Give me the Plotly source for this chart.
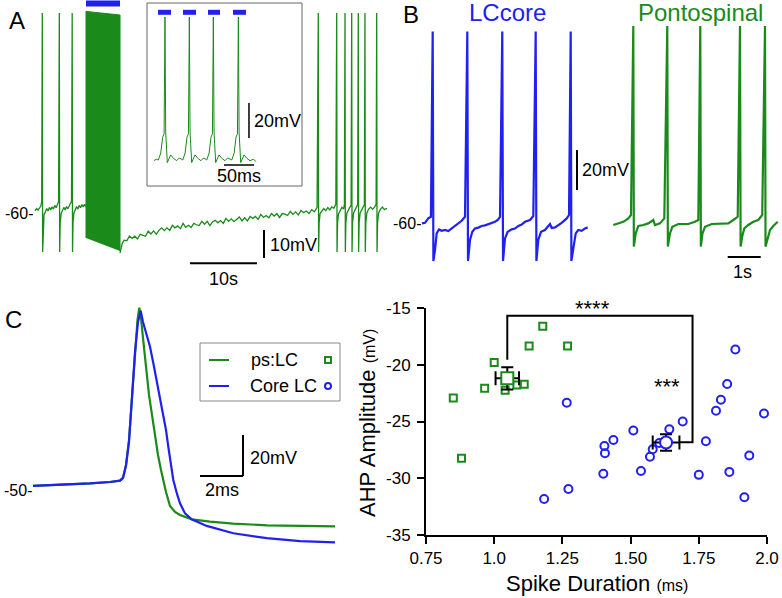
import plotly.graph_objects as go

GREEN = "#1a8a1a"
BLUE = "#2020f0"
FONT = "Liberation Sans, Arial, sans-serif"
W, H = 782, 598

# ---------------- Panel A: long recording (time s, membrane potential mV) ----------------
a_pre_t = [0.00, 0.25, 0.45, 0.65, 0.85, 1.00, 1.09, 1.14, 1.22, 1.35, 1.55, 1.75, 1.95, 2.15, 2.35,
           2.55, 2.75, 2.95, 3.15, 3.35, 3.52, 3.63, 3.68, 3.76, 3.90, 4.10, 4.30, 4.50, 4.70, 4.90,
           5.10, 5.30, 5.45, 5.55, 5.60, 5.68, 5.82, 6.00, 6.20, 6.40, 6.60, 6.80, 7.00, 7.20, 7.40,
           7.55, 7.61]
a_pre_v = [-59.2, -58.4, -59.0, -58.2, -57.6, -56.0, 11.4, -73.9, -64.0, -60.5, -59.6, -58.4, -59.3, -58.0, -58.9,
           -57.8, -58.6, -57.3, -58.1, -57.0, -56.0, 11.4, -73.9, -63.5, -60.2, -59.1, -58.0, -58.9, -57.7, -58.5,
           -57.4, -56.8, -55.8, 11.4, -73.9, -63.0, -60.0, -58.9, -57.7, -58.6, -57.3, -58.1, -57.0, -57.8, -56.9,
           -57.5, -57.5]
# dense high-frequency firing during the light train (drawn as a filled envelope)
a_block_t = [7.61, 7.61, 12.69, 12.69]
a_block_v = [-68.9, 12.0, 10.7, -73.6]
a_post_t = [12.69, 12.80, 13.00,
            13.3, 13.7, 14.1, 14.5, 14.9, 15.3, 15.7, 16.1, 16.5, 16.9, 17.3, 17.7, 18.1, 18.5, 18.9, 19.3,
            19.7, 20.1, 20.5, 20.9, 21.3, 21.7, 22.1, 22.5, 22.9, 23.3, 23.7, 24.1, 24.5, 24.9, 25.3, 25.7,
            26.1, 26.5, 26.9, 27.3, 27.7, 28.1, 28.5, 28.9, 29.3, 29.7, 30.1, 30.5, 30.9, 31.3, 31.7, 32.1,
            32.5, 32.9, 33.3, 33.7, 34.1, 34.5, 34.9, 35.3, 35.7, 36.1, 36.5, 36.9, 37.3, 37.7, 38.1, 38.5,
            38.9, 39.3, 39.7, 40.1, 40.5, 40.9, 41.3, 41.7,
            42.10, 42.28, 42.33, 42.41, 42.55, 42.80, 43.10, 43.40, 43.70,
            44.00, 44.30, 44.60, 44.90, 45.03, 45.08, 45.16, 45.30, 45.55, 45.80, 46.05, 46.18, 46.27, 46.32,
            46.40, 46.55, 46.80, 47.00, 47.18, 47.27, 47.32, 47.40, 47.55, 47.80, 48.00, 48.16, 48.25, 48.30,
            48.38, 48.53, 48.75, 48.95, 49.16, 49.25, 49.30, 49.38, 49.53, 49.80, 50.10, 50.40, 50.70, 50.91,
            51.00, 51.05, 51.13, 51.28, 51.55, 51.85, 52.15, 52.54]
a_post_v = [-74.3, -72.5, -71.0,
            -69.7, -69.9, -68.2, -69.1, -68.3, -69.3, -67.6, -67.9, -68.3, -66.5, -67.5, -66.4, -67.6, -66.2,
            -65.3, -66.3, -65.3, -66.2, -64.4, -65.3, -64.6, -65.6, -63.7, -65.1, -64.4, -65.2, -63.7, -64.2,
            -64.5, -63.0, -64.0, -63.0, -64.5, -63.2, -62.6, -63.5, -62.7, -63.7, -61.9, -63.0, -62.1, -63.1,
            -62.3, -61.4, -62.8, -61.7, -62.8, -61.2, -61.9, -61.2, -62.3, -60.5, -61.6, -60.9, -61.7, -60.2,
            -61.1, -60.2, -61.6, -60.2, -60.4, -60.9, -59.4, -60.5, -59.6, -60.7, -59.1, -59.9, -59.3, -60.2,
            -58.8, -59.6,
            -58.0, 11.4, -73.9, -63.5, -60.2, -59.3, -58.4, -59.2, -58.1,
            -58.9, -57.8, -58.3, -56.8, 11.4, -73.9, -63.5, -60.3, -58.9, -58.0, -58.6, -57.0, 11.4, -73.9,
            -63.5, -60.0, -58.7, -58.2, -57.2, 11.4, -73.9, -63.4, -60.0, -58.6, -58.1, -57.0, 11.4, -73.9,
            -63.3, -60.0, -58.7, -58.0, -57.1, 11.4, -73.9, -63.4, -60.0, -58.6, -57.9, -58.7, -57.8, -56.9,
            11.4, -73.9, -63.5, -60.1, -58.7, -57.9, -58.8, -58.3]
a_stim_t = [7.61, 12.69]
a_stim_v = [14.8, 14.8]

# ---------------- Inset: single spikes (time ms, mV) ----------------
ins_t = [0.0, 4.0, 7.3, 11.3, 14.4, 16.8, 18.3, 19.5, 22.2, 27.7, 32.3, 37.7, 42.3,
         47.9, 51.9, 55.0, 57.4, 58.9, 60.1, 62.8, 68.3, 72.9, 78.3, 82.9,
         87.9, 91.9, 95.0, 97.4, 98.9, 100.1, 102.8, 108.3, 112.9, 118.3, 122.9,
         129.6, 133.6, 136.7, 139.1, 140.6, 141.8, 144.5, 150.0, 154.6, 160.0, 166.0, 170.0]
ins_v = [-60.3, -59.6, -60.0, -56.0, -47.0, -45.0, 21.7, -44.0, -61.5, -57.1, -59.0, -60.4, -58.8,
         -60.0, -56.0, -47.0, -45.0, 21.7, -44.0, -61.5, -57.1, -59.0, -60.4, -58.8,
         -60.0, -56.0, -47.0, -45.0, 21.7, -44.0, -61.5, -57.1, -59.0, -60.4, -58.8,
         -60.0, -56.0, -47.0, -45.0, 21.7, -44.0, -61.5, -57.1, -59.0, -60.4, -59.5, -61.0]
ins_stim_on = [6.7, 48.3, 90.0, 131.7]
ins_stim_off = [28.3, 70.0, 110.0, 153.3]
ins_stim_v = 24.4

# ---------------- Panel B: spontaneous firing (time s, mV) ----------------
lc_t = [0.00, 0.09, 0.19, 0.27, 0.324, 0.345, 0.394, 0.445, 0.515, 0.597, 0.697, 0.797, 0.90, 1.00, 1.10,
        1.203, 1.303, 1.373, 1.394, 1.455, 1.524, 1.606, 1.706, 1.809, 1.909, 2.009, 2.112, 2.212, 2.303,
        2.364, 2.433, 2.455, 2.515, 2.597, 2.718, 2.818, 2.918, 3.021, 3.121, 3.273, 3.373, 3.445, 3.467,
        3.524, 3.606, 3.727, 3.827, 3.879, 3.93, 4.03, 4.233, 4.385, 4.455, 4.506, 4.527, 4.585, 4.658,
        4.736, 4.839, 4.939, 5.021]
lc_v = [-58.7, -58.4, -56.2, -55.4, 37.2, -77.5, -72.0, -63.7, -61.7, -62.4, -62.0, -62.5, -61.2, -60.0, -59.0,
        -57.4, -55.4, 37.2, -77.5, -67.0, -62.9, -61.2, -60.8, -60.0, -59.7, -59.0, -58.4, -57.9, -56.8,
        -55.4, 37.2, -77.5, -66.2, -62.9, -61.7, -61.3, -60.0, -59.3, -57.9, -57.0, -55.0, 37.2, -77.5,
        -67.0, -62.9, -62.0, -60.0, -59.0, -61.0, -60.7, -58.4, -56.2, -54.5, 37.2, -77.5, -70.4, -63.7,
        -62.0, -62.4, -61.2, -60.7]
ps_t = [5.797, 5.948, 6.10, 6.252, 6.333, 6.403, 6.42, 6.476, 6.555, 6.706, 6.858, 7.009, 7.06, 7.212,
        7.342, 7.433, 7.45, 7.515, 7.585, 7.767, 8.07, 8.273, 8.373, 8.433, 8.45, 8.50, 8.576, 8.779,
        9.082, 9.282, 9.433, 9.567, 9.636, 9.655, 9.706, 9.767, 9.888, 10.04, 10.19, 10.31, 10.394,
        10.41, 10.464, 10.545, 10.645, 10.779]
ps_v = [-59.5, -58.7, -57.9, -56.2, -54.5, 40.0, -70.3, -63.7, -60.0, -59.5, -58.7, -57.0, -59.5, -58.7,
        -56.2, 40.0, -70.3, -63.7, -60.4, -59.0, -59.0, -57.9, -57.0, 40.0, -70.3, -63.7, -60.4, -59.0,
        -59.0, -58.7, -57.0, -55.4, 40.0, -70.3, -65.0, -61.2, -59.5, -57.9, -57.0, -54.5, 40.0,
        -70.3, -67.0, -62.0, -60.0, -57.9]

# ---------------- Panel C: averaged spike waveforms (time ms, mV) ----------------
c_ps_t = [0.0, 1.256, 2.651, 3.581, 4.047, 4.186, 4.326, 4.465, 4.605, 4.744, 4.86, 4.944, 5.023, 5.116,
          5.256, 5.395, 5.521, 5.674, 5.814, 5.953, 6.06, 6.186, 6.372, 6.605, 6.837, 7.395, 8.233, 9.302,
          10.884, 12.419, 14.047]
c_ps_v = [-48.5, -48.05, -47.3, -46.6, -45.9, -44.6, -38.3, -26.1, -4.1, 17.8, 32.4, 38.4, 33.4, 23.7,
          8.0, -4.1, -12.9, -24.1, -33.4, -40.7, -45.6, -51.5, -58.3, -61.2, -62.7, -64.8, -65.9, -66.9,
          -67.7, -68.0, -68.2]
c_lc_t = [0.0, 1.256, 2.651, 3.581, 4.047, 4.186, 4.326, 4.465, 4.605, 4.744, 4.884, 5.009, 5.116, 5.279,
          5.442, 5.595, 5.753, 5.907, 6.06, 6.186, 6.293, 6.419, 6.526, 6.698, 6.837, 7.07, 7.381, 8.079,
          9.316, 10.87, 12.419, 14.047]
c_lc_v = [-48.5, -48.05, -47.3, -46.6, -45.9, -44.6, -38.6, -27.0, -5.5, 16.8, 31.5, 37.0, 31.5, 25.1,
          19.4, 11.5, 3.2, -5.1, -13.1, -21.2, -29.4, -38.3, -45.6, -52.4, -57.0, -61.9, -64.8, -68.0,
          -71.6, -74.0, -75.4, -76.0]

# ---------------- Scatter: spike duration (ms) vs AHP amplitude (mV) ----------------
ps_dur = [0.85, 0.88, 0.965, 1.00, 1.04, 1.083, 1.11, 1.128, 1.178, 1.269]
ps_ahp = [-22.94, -28.24, -22.07, -19.8, -22.25, -21.78, -21.72, -18.35, -16.6, -18.35]
core_dur = [1.183, 1.266, 1.272, 1.40, 1.404, 1.406, 1.437, 1.51, 1.538, 1.571, 1.581, 1.605,
            1.642, 1.691, 1.75, 1.776, 1.813, 1.831, 1.854, 1.862, 1.884, 1.917, 1.935, 1.989]
core_ahp = [-31.83, -23.35, -30.95, -29.6, -27.16, -27.8, -26.63, -25.8, -29.36, -28.1, -27.45, -26.9,
            -25.69, -25.0, -29.7, -26.74, -24.06, -23.09, -21.7, -29.44, -18.65, -31.68, -28.0, -24.3]
ps_mean = (1.048, -21.2)
ps_sem = (0.043, 0.98)
core_mean = (1.63, -26.85)
core_sem = (0.049, 0.72)
bracket_x = [1.048, 1.048, 1.727, 1.727, 1.68]
bracket_y = [-19.56, -15.68, -15.68, -26.82, -26.82]
x_ticks = [0.75, 1.0, 1.25, 1.5, 1.75, 2.0]
x_ticktext = ["0.75", "1.0", "1.25", "1.50", "1.75", "2.0"]
y_ticks = [-35, -30, -25, -20, -15]
y_ticktext = ["-35", "-30", "-25", "-20", "-15"]


# ---------------- helpers for layout geometry ----------------
def xd(p0, p1):
    return [p0 / W, p1 / W]


def yd(p_top, p_bot):
    return [1 - p_bot / H, 1 - p_top / H]


def hr(p0, p1, pref, vref, scale):
    return [vref + (p0 - pref) / scale, vref + (p1 - pref) / scale]


def vr(p_top, p_bot, pref, vref, scale):
    return [vref - (p_bot - pref) / scale, vref + (pref - p_top) / scale]


def P(x, y):
    return x / W, 1 - y / H


fig = go.Figure()

# Panel A
fig.add_trace(go.Scatter(x=a_pre_t, y=a_pre_v, mode="lines", line=dict(color=GREEN, width=1.3),
                         xaxis="x", yaxis="y"))
fig.add_trace(go.Scatter(x=a_block_t, y=a_block_v, mode="lines", fill="toself", fillcolor=GREEN,
                         line=dict(color=GREEN, width=1), xaxis="x", yaxis="y"))
fig.add_trace(go.Scatter(x=a_post_t, y=a_post_v, mode="lines", line=dict(color=GREEN, width=1.3),
                         xaxis="x", yaxis="y"))
fig.add_trace(go.Scatter(x=a_stim_t, y=a_stim_v, mode="lines", line=dict(color=BLUE, width=6),
                         xaxis="x", yaxis="y"))

# Inset
stx, sty = [], []
for on, off in zip(ins_stim_on, ins_stim_off):
    stx += [on, off, None]
    sty += [ins_stim_v, ins_stim_v, None]
fig.add_trace(go.Scatter(x=ins_t, y=ins_v, mode="lines", line=dict(color=GREEN, width=1),
                         xaxis="x2", yaxis="y2"))
fig.add_trace(go.Scatter(x=stx, y=sty, mode="lines", line=dict(color=BLUE, width=5),
                         xaxis="x2", yaxis="y2"))

# Panel B
fig.add_trace(go.Scatter(x=lc_t, y=lc_v, mode="lines", line=dict(color=BLUE, width=2.2),
                         xaxis="x3", yaxis="y3"))
fig.add_trace(go.Scatter(x=ps_t, y=ps_v, mode="lines", line=dict(color=GREEN, width=2.2),
                         xaxis="x3", yaxis="y3"))

# Panel C
fig.add_trace(go.Scatter(x=c_ps_t, y=c_ps_v, mode="lines", line=dict(color=GREEN, width=2.2),
                         xaxis="x4", yaxis="y4"))
fig.add_trace(go.Scatter(x=c_lc_t, y=c_lc_v, mode="lines", line=dict(color=BLUE, width=2.2),
                         xaxis="x4", yaxis="y4"))

# Scatter panel
fig.add_trace(go.Scatter(x=bracket_x, y=bracket_y, mode="lines", line=dict(color="black", width=2),
                         xaxis="x5", yaxis="y5", cliponaxis=False))
fig.add_trace(go.Scatter(x=ps_dur, y=ps_ahp, mode="markers", cliponaxis=False,
                         marker=dict(symbol="square-open", size=7, color=GREEN, line=dict(width=2)),
                         xaxis="x5", yaxis="y5"))
fig.add_trace(go.Scatter(x=core_dur, y=core_ahp, mode="markers", cliponaxis=False,
                         marker=dict(symbol="circle-open", size=8, color=BLUE, line=dict(width=2)),
                         xaxis="x5", yaxis="y5"))
fig.add_trace(go.Scatter(x=[ps_mean[0]], y=[ps_mean[1]], mode="markers", cliponaxis=False,
                         marker=dict(symbol="square", size=12, color="white", line=dict(color=GREEN, width=2)),
                         error_x=dict(type="data", array=[ps_sem[0]], color="black", thickness=2, width=7),
                         error_y=dict(type="data", array=[ps_sem[1]], color="black", thickness=2, width=6),
                         xaxis="x5", yaxis="y5"))
fig.add_trace(go.Scatter(x=[core_mean[0]], y=[core_mean[1]], mode="markers", cliponaxis=False,
                         marker=dict(symbol="circle", size=12, color="white", line=dict(color=BLUE, width=2)),
                         error_x=dict(type="data", array=[core_sem[0]], color="black", thickness=2, width=7),
                         error_y=dict(type="data", array=[core_sem[1]], color="black", thickness=2, width=6),
                         xaxis="x5", yaxis="y5"))

hidden = dict(visible=False, fixedrange=True, showgrid=False, zeroline=False, automargin=False)
axis_font = dict(family=FONT, size=17, color="black")
fig.update_layout(
    template="none",
    width=W, height=H, autosize=False,
    margin=dict(l=0, r=0, t=0, b=0, pad=0, autoexpand=False),
    paper_bgcolor="white", plot_bgcolor="white", showlegend=False,
    font=dict(family=FONT, color="black"),
    xaxis=dict(domain=xd(0, 395), range=hr(0, 395, 35, 0, 6.7), anchor="y", **hidden),
    yaxis=dict(domain=yd(0, 280), range=vr(0, 280, 213, -60, 2.8), anchor="x", **hidden),
    xaxis2=dict(domain=xd(147, 302), range=hr(147, 302, 154, 0, 0.6), anchor="y2", **hidden),
    yaxis2=dict(domain=yd(3, 186), range=vr(3, 186, 160, -60, 1.75), anchor="x2", **hidden),
    xaxis3=dict(domain=xd(395, 782), range=hr(395, 782, 422, 0, 33), anchor="y3", **hidden),
    yaxis3=dict(domain=yd(0, 280), range=vr(0, 280, 226, -60, 2.0), anchor="x3", **hidden),
    xaxis4=dict(domain=xd(0, 360), range=hr(0, 360, 33, 0, 21.5), anchor="y4", **hidden),
    yaxis4=dict(domain=yd(290, 598), range=vr(290, 598, 489, -50, 2.05), anchor="x4", **hidden),
    xaxis5=dict(domain=xd(426, 767), range=[0.75, 2.0], anchor="y5", showline=True, linecolor="black",
                linewidth=2, ticks="outside", ticklen=7, tickwidth=2, tickcolor="black",
                tickvals=x_ticks, ticktext=x_ticktext, tickfont=axis_font, showgrid=False,
                zeroline=False, fixedrange=True, automargin=False),
    yaxis5=dict(domain=yd(308, 535), range=[-35, -15], anchor="x5", showline=True, linecolor="black",
                linewidth=2, ticks="outside", ticklen=7, tickwidth=2, tickcolor="black",
                tickvals=y_ticks, ticktext=y_ticktext, tickfont=axis_font, showgrid=False,
                zeroline=False, fixedrange=True, automargin=False, ticklabelstandoff=3),
)

shapes = []


def seg(xref, yref, x0, y0, x1, y1, width=2, color="black"):
    shapes.append(dict(type="line", xref=xref, yref=yref, x0=x0, y0=y0, x1=x1, y1=y1,
                       line=dict(color=color, width=width)))


# scale bars (in each panel's own units)
seg("x", "y", 23.13, -77.97, 33.13, -77.97)          # 10 s
seg("x", "y", 34.18, -66.07, 34.18, -76.07)          # 10 mV
seg("x2", "y2", 158.3, -27.4, 158.3, -47.4, 1.5)     # 20 mV
seg("x2", "y2", 116.7, -62.86, 166.7, -62.86, 1.5)   # 50 ms
seg("x3", "y3", 4.697, -22.0, 4.697, -42.0)          # 20 mV
seg("x3", "y3", 9.264, -75.5, 10.264, -75.5)         # 1 s
seg("x4", "y4", 9.767, -23.66, 9.767, -43.66)        # 20 mV
seg("x4", "y4", 7.767, -43.66, 9.767, -43.66)        # 2 ms

# inset frame
x0, y0 = P(147, 186)
x1, y1 = P(302, 3)
shapes.append(dict(type="rect", xref="paper", yref="paper", x0=x0, y0=y0, x1=x1, y1=y1,
                   line=dict(color="#666666", width=1)))
# legend of panel C
x0, y0 = P(200, 401)
x1, y1 = P(340, 343)
shapes.append(dict(type="rect", xref="paper", yref="paper", x0=x0, y0=y0, x1=x1, y1=y1,
                   line=dict(color="#888888", width=1)))
for yy, col in [(360, GREEN), (386, BLUE)]:
    a, b = P(209, yy)
    c, d = P(229, yy)
    shapes.append(dict(type="line", xref="paper", yref="paper", x0=a, y0=b, x1=c, y1=d,
                       line=dict(color=col, width=2)))
a, b = P(325, 363)
c, d = P(331, 357)
shapes.append(dict(type="rect", xref="paper", yref="paper", x0=a, y0=b, x1=c, y1=d,
                   line=dict(color=GREEN, width=2)))
a, b = P(325, 389)
c, d = P(331, 383)
shapes.append(dict(type="circle", xref="paper", yref="paper", x0=a, y0=b, x1=c, y1=d,
                   line=dict(color=BLUE, width=2)))

annotations = []


def txt(text, x, y, size=18, color="black", xanchor="center", yanchor="middle", xref="paper",
        yref="paper", angle=0):
    if xref == "paper":
        x, y = P(x, y)
    annotations.append(dict(text=text, x=x, y=y, xref=xref, yref=yref, showarrow=False,
                            xanchor=xanchor, yanchor=yanchor, textangle=angle,
                            font=dict(family=FONT, size=size, color=color)))


txt("A", 17, 21, size=24)
txt("B", 411, 15, size=24)
txt("C", 13, 319, size=24)
txt("LCcore", 507, 13, size=24, color=BLUE)
txt("Pontospinal", 700, 13, size=24, color=GREEN)
txt("-60-", 35, 213, size=16, xanchor="right")
txt("-60-", 423, 224, size=16, xanchor="right")
txt("-50-", 34, 490, size=16, xanchor="right")
txt("10s", 223, 279)
txt("10mV", 268, 245, xanchor="left")
txt("20mV", 252, 121, xanchor="left")
txt("50ms", 239, 176)
txt("20mV", 580, 170, xanchor="left")
txt("1s", 742, 272)
txt("20mV", 248, 458, xanchor="left")
txt("2ms", 222, 490)
txt("ps:LC", 249, 360, xanchor="left")
txt("Core LC", 248, 386, xanchor="left")
txt("****", 1.36, -15.0, size=22, xref="x5", yref="y5")
txt("***", 1.635, -21.9, size=22, xref="x5", yref="y5")
txt("Spike Duration <span style='font-size:16px'>(ms)</span>", 597, 583, size=22)
txt("AHP Amplitude <span style='font-size:16px'>(mV)</span>", 367, 423, size=22, angle=-90)

fig.update_layout(shapes=shapes, annotations=annotations)
fig.write_html("out.html", config={"displayModeBar": False, "staticPlot": True},
               post_script="document.body.style.margin='0px';document.body.style.overflow='hidden';")
